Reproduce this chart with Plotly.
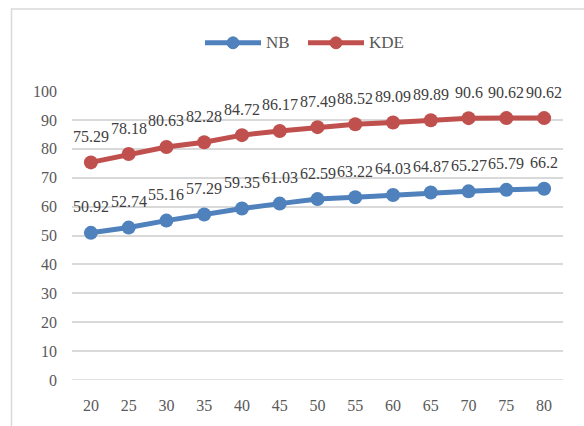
import plotly.graph_objects as go

# Sample sizes on the horizontal axis
sizes = [20, 25, 30, 35, 40, 45, 50, 55, 60, 65, 70, 75, 80]
nb_values = [50.92, 52.74, 55.16, 57.29, 59.35, 61.03, 62.59, 63.22, 64.03, 64.87, 65.27, 65.79, 66.2]
kde_values = [75.29, 78.18, 80.63, 82.28, 84.72, 86.17, 87.49, 88.52, 89.09, 89.89, 90.6, 90.62, 90.62]
y_ticks = [0, 10, 20, 30, 40, 50, 60, 70, 80, 90, 100]

BLUE = "#4F81BD"
RED = "#C0504D"
GREY_TEXT = "#595959"
FONT = "Liberation Serif"

series = [("NB", nb_values, BLUE), ("KDE", kde_values, RED)]

fig = go.Figure()
for name, vals, col in series:
    fig.add_trace(go.Scatter(
        x=sizes, y=vals, name=name, mode="lines+markers",
        line=dict(color=col, width=5),
        marker=dict(color=col, size=14),
        showlegend=False,
    ))

# Plot-area geometry (pixels)
L, R, T, B = 72, 21, 91, 44
W, H = 584 - L - R, 426 - T - B


def px_x(p):
    return (p - L) / W


def px_y(p):
    return (426 - B - p) / H


# Value labels above each point
annotations = []
for _, vals, _ in series:
    for xv, v in zip(sizes, vals):
        annotations.append(dict(
            x=xv, y=v, xref="x", yref="y", text=f"{v:g}",
            showarrow=False, yshift=26, yanchor="middle",
            font=dict(family=FONT, size=16, color="#404040"),
        ))

# Legend drawn above the plot: line, circle marker and label per series
shapes = []
legend_y = 42.5
for (name, _, col), x_start in zip(series, [205, 308]):
    x_end = x_start + 56
    xc = (x_start + x_end) / 2
    shapes.append(dict(type="line", xref="paper", yref="paper",
                       x0=px_x(x_start), x1=px_x(x_end),
                       y0=px_y(legend_y), y1=px_y(legend_y),
                       line=dict(color=col, width=5)))
    shapes.append(dict(type="circle", xref="paper", yref="paper",
                       x0=px_x(xc - 6), x1=px_x(xc + 6),
                       y0=px_y(legend_y + 6), y1=px_y(legend_y - 6),
                       fillcolor=col, line=dict(color=col, width=1)))
    annotations.append(dict(
        x=px_x(x_end + 3), y=px_y(legend_y), xref="paper", yref="paper",
        text=name, showarrow=False, xanchor="left", yanchor="middle",
        font=dict(family=FONT, size=17, color=GREY_TEXT),
    ))

# Chart border and baseline
shapes.append(dict(type="rect", xref="paper", yref="paper",
                   x0=px_x(11.5), x1=px_x(600),
                   y0=px_y(440), y1=px_y(8.5),
                   line=dict(color="#D9D9D9", width=1.5), layer="below"))
shapes.append(dict(type="line", xref="paper", yref="y", x0=0, x1=1, y0=0, y1=0,
                   line=dict(color="#D9D9D9", width=1.5), layer="below"))

fig.update_layout(
    width=584, height=426,
    margin=dict(l=L, r=R, t=T, b=B),
    paper_bgcolor="white", plot_bgcolor="white",
    font=dict(family=FONT, size=16, color=GREY_TEXT),
    annotations=annotations,
    shapes=shapes,
    showlegend=False,
    xaxis=dict(
        range=[17.5, 82.5], tickvals=sizes, showgrid=False, showline=False,
        zeroline=False, ticks="", tickfont=dict(family=FONT, size=16, color=GREY_TEXT),
        ticklabelstandoff=14,
    ),
    yaxis=dict(
        range=[0, 100], tickvals=y_ticks, showgrid=True,
        gridcolor="#D9D9D9", gridwidth=1.5, zeroline=False, showline=False,
        ticks="", tickfont=dict(family=FONT, size=16, color=GREY_TEXT),
        ticklabelstandoff=14,
    ),
)

fig.write_html("out.html")
